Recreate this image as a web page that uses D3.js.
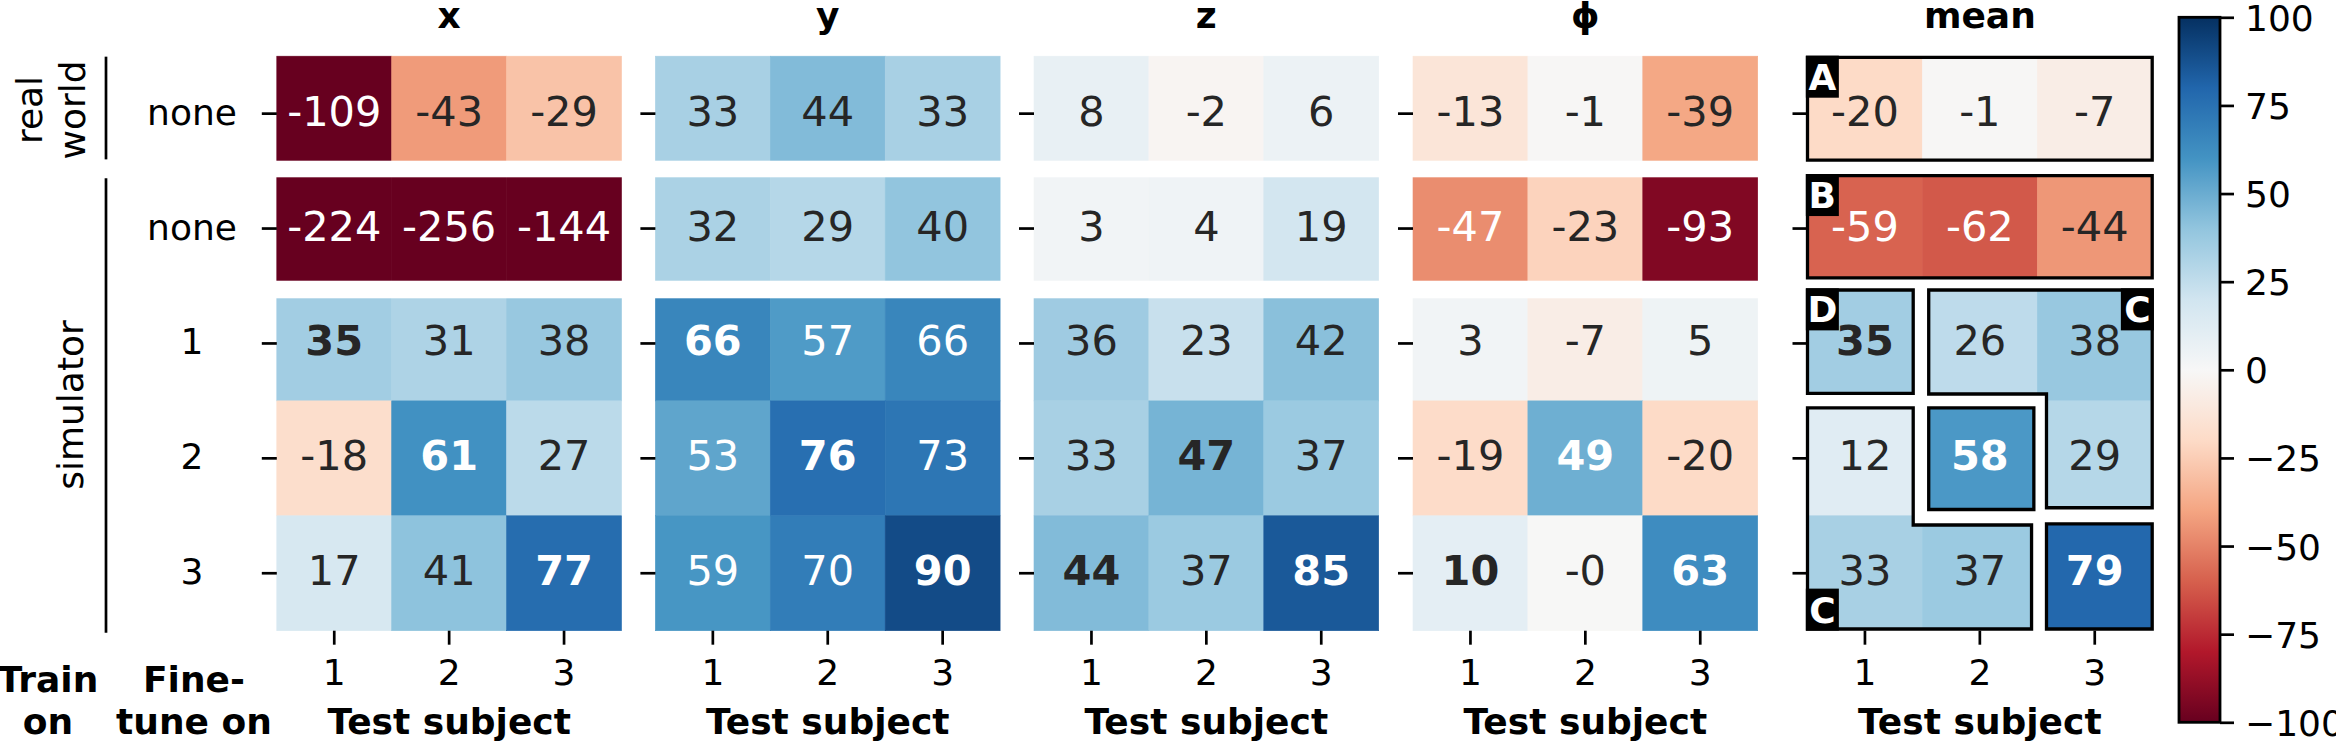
<!DOCTYPE html>
<html><head><meta charset="utf-8">
<script src="https://cdn.jsdelivr.net/npm/d3@7"></script>
<style>
html,body{margin:0;padding:0;background:#fff;}
svg text{font-family:"DejaVu Sans",sans-serif;}
</style></head><body>
<svg id="chart" width="2336" height="743"></svg>
<script>
// ---------------- data ----------------
const panels = ["x", "y", "z", "ϕ", "mean"];
const subjects = ["1", "2", "3"];
const rowLabels = ["none", "none", "1", "2", "3"];
const valuesX    = [[-109, -43, -29], [-224, -256, -144], [35, 31, 38], [-18, 61, 27], [17, 41, 77]];
const valuesY    = [[33, 44, 33], [32, 29, 40], [66, 57, 66], [53, 76, 73], [59, 70, 90]];
const valuesZ    = [[8, -2, 6], [3, 4, 19], [36, 23, 42], [33, 47, 37], [44, 37, 85]];
const valuesPhi  = [[-13, -1, -39], [-47, -23, -93], [3, -7, 5], [-19, 49, -20], [10, -0.3, 63]];
const valuesMean = [[-20, -1, -7], [-59, -62, -44], [35, 26, 38], [12, 58, 29], [33, 37, 79]];
const cbarTicks = [100, 75, 50, 25, 0, -25, -50, -75, -100];
const rdbuColors = ["#67001f","#b2182b","#d6604d","#f4a582","#fddbc7","#f7f7f7","#d1e5f0","#92c5de","#4393c3","#2166ac","#053061"];
// groups outlined in the mean panel (grid units: column, row)
const meanGroups = [
  {label: "A", corner: "tl", pts: [[0,0.01],[3,0.01],[3,0.905],[0,0.905]]},
  {label: "B", corner: "tl", pts: [[0,1.04],[3,1.04],[3,1.93],[0,1.93]]},
  {label: "D", corner: "tl", pts: [[0,2.035],[0.92,2.035],[0.92,2.935],[0,2.935]]},
  {label: "C", corner: "tr", pts: [[1.055,2.035],[3,2.035],[3,3.93],[2.08,3.93],[2.08,2.94],[1.055,2.94]]},
  {label: "",  corner: "",   pts: [[1.055,3.06],[1.97,3.06],[1.97,3.945],[1.055,3.945]]},
  {label: "C", corner: "bl", pts: [[0,3.06],[0.92,3.06],[0.92,4.08],[1.95,4.08],[1.95,4.985],[0,4.985]]},
  {label: "",  corner: "",   pts: [[2.08,4.07],[3,4.07],[3,4.985],[2.08,4.985]]}
];

// ---------------- layout ----------------
const svg = d3.select("#chart");
const cell = 114.9, gridTop = 56.2;
const panelLeft = [276.8, 655.4, 1034, 1413, 1807.5];
const panelValues = [valuesX, valuesY, valuesZ, valuesPhi, valuesMean];
const FS = 36, FSA = 41.5;
const dark = "#262626";

const color = d3.scaleLinear()
  .domain(d3.range(rdbuColors.length).map(i => -100 + 200 * i / (rdbuColors.length - 1)))
  .range(rdbuColors).interpolate(d3.interpolateRgb).clamp(true);

function lum(c) {
  const rgb = d3.rgb(c);
  const f = v => { v /= 255; return v <= 0.03928 ? v / 12.92 : Math.pow((v + 0.055) / 1.055, 2.4); };
  return 0.2126 * f(rgb.r) + 0.7152 * f(rgb.g) + 0.0722 * f(rgb.b);
}
const fmt = v => (v < 0 && Math.round(v) === 0) ? "-0" : String(Math.round(v));

const yScale = d3.scaleBand().domain(d3.range(rowLabels.length)).range([gridTop, gridTop + rowLabels.length * cell]);

// defs
const defs = svg.append("defs");

panels.forEach((name, p) => {
  const vals = panelValues[p];
  const x0 = panelLeft[p];
  const xScale = d3.scaleBand().domain(subjects).range([x0, x0 + subjects.length * cell]);
  const g = svg.append("g");
  const isMean = name === "mean";

  // column max -> bold
  const colMax = subjects.map((s, c) => d3.max(vals, row => row[c]));

  const cellsG = g.append("g");
  if (isMean) {
    const cp = defs.append("clipPath").attr("id", "meanClip");
    meanGroups.forEach(gr => {
      cp.append("path").attr("d", d3.line()(gr.pts.map(([gx, gy]) => [x0 + gx * cell, gridTop + gy * cell])) + "Z");
    });
    cellsG.attr("clip-path", "url(#meanClip)");
  }
  vals.forEach((row, r) => {
    row.forEach((v, c) => {
      cellsG.append("rect")
        .attr("x", xScale(subjects[c])).attr("y", yScale(r))
        .attr("width", xScale.bandwidth()).attr("height", yScale.bandwidth())
        .attr("fill", color(v)).attr("stroke", color(v)).attr("stroke-width", 0.6);
    });
  });
  if (!isMean) {
    [[0.9095, 1.054], [1.954, 2.107]].forEach(([a, b]) => {
      g.append("rect").attr("x", x0 - 1).attr("width", subjects.length * cell + 2)
        .attr("y", gridTop + a * cell).attr("height", (b - a) * cell).attr("fill", "#fff");
    });
  }
  // annotations
  vals.forEach((row, r) => {
    row.forEach((v, c) => {
      const col = color(v);
      g.append("text")
        .attr("x", xScale(subjects[c]) + xScale.bandwidth() / 2)
        .attr("y", yScale(r) + yScale.bandwidth() / 2 + 12)
        .attr("text-anchor", "middle")
        .attr("font-size", FSA)
        .attr("font-weight", v === colMax[c] ? "bold" : "normal")
        .attr("fill", lum(col) > 0.408 ? dark : "#ffffff")
        .text(fmt(v));
    });
  });

  if (isMean) {
    const sw = 3.3;
    meanGroups.forEach(gr => {
      const pts = gr.pts.map(([gx, gy]) => [x0 + gx * cell, gridTop + gy * cell]);
      g.append("path").attr("d", d3.line()(pts) + "Z")
        .attr("fill", "none").attr("stroke", "#000").attr("stroke-width", sw).attr("stroke-linejoin", "miter");
      if (gr.label) {
        const minX = d3.min(pts, d => d[0]), maxX = d3.max(pts, d => d[0]);
        const minY = d3.min(pts, d => d[1]), maxY = d3.max(pts, d => d[1]);
        const bw = 33, bh = 42;
        let bx = minX - sw / 2, by = minY - sw / 2;
        if (gr.corner === "tr") bx = maxX + sw / 2 - bw;
        if (gr.corner === "bl") by = maxY + sw / 2 - bh;
        g.append("rect").attr("x", bx).attr("y", by).attr("width", bw).attr("height", bh).attr("fill", "#000");
        g.append("text").attr("x", bx + bw / 2).attr("y", by + bh / 2 + 13)
          .attr("text-anchor", "middle").attr("font-size", FS).attr("font-weight", "bold")
          .attr("fill", "#fff").text(gr.label);
      }
    });
  }

  // left axis
  const ya = g.append("g").attr("transform", `translate(${x0},0)`)
    .call(d3.axisLeft(yScale).tickSize(15).tickFormat(i => p === 0 ? rowLabels[i] : ""));
  ya.select(".domain").remove();
  ya.selectAll(".tick line").attr("stroke", "#000").attr("stroke-width", 2.7);
  ya.selectAll(".tick text").attr("font-size", FS).attr("fill", "#000")
    .attr("font-family", "DejaVu Sans").attr("text-anchor", "middle")
    .attr("x", 192 - x0).attr("dy", 0).attr("y", 11);

  // bottom axis
  const xa = g.append("g").attr("transform", `translate(0,${gridTop + rowLabels.length * cell})`)
    .call(d3.axisBottom(xScale).tickSize(14));
  xa.select(".domain").remove();
  xa.selectAll(".tick line").attr("stroke", "#000").attr("stroke-width", 2.7);
  xa.selectAll(".tick text").attr("font-size", FS).attr("fill", "#000")
    .attr("font-family", "DejaVu Sans").attr("dy", 0).attr("y", 54);

  // title and x label
  g.append("text").attr("x", x0 + subjects.length * cell / 2).attr("y", 28)
    .attr("text-anchor", "middle").attr("font-size", FS).attr("font-weight", "bold").text(name);
  g.append("text").attr("x", x0 + subjects.length * cell / 2).attr("y", 734)
    .attr("text-anchor", "middle").attr("font-size", FS).attr("font-weight", "bold").text("Test subject");
});

// ---------------- group brackets on the left ----------------
svg.append("line").attr("x1", 106).attr("x2", 106)
  .attr("y1", gridTop + 0.004 * cell).attr("y2", gridTop + 0.898 * cell)
  .attr("stroke", "#000").attr("stroke-width", 2.7);
svg.append("line").attr("x1", 106).attr("x2", 106)
  .attr("y1", gridTop + 1.063 * cell).attr("y2", gridTop + 5.018 * cell)
  .attr("stroke", "#000").attr("stroke-width", 2.7);

const rw = svg.append("text").attr("transform", "translate(42,110) rotate(-90)")
  .attr("text-anchor", "middle").attr("font-size", FS);
rw.append("tspan").attr("x", 0).attr("y", 0).text("real");
rw.append("tspan").attr("x", 0).attr("y", 43).text("world");
svg.append("text").attr("transform", "translate(83,405) rotate(-90)")
  .attr("text-anchor", "middle").attr("font-size", FS).text("simulator");

const tr = svg.append("text").attr("text-anchor", "middle").attr("font-size", FS).attr("font-weight", "bold");
tr.append("tspan").attr("x", 48).attr("y", 692).text("Train");
tr.append("tspan").attr("x", 48).attr("y", 734).text("on");
const ft = svg.append("text").attr("text-anchor", "middle").attr("font-size", FS).attr("font-weight", "bold");
ft.append("tspan").attr("x", 194).attr("y", 692).text("Fine-");
ft.append("tspan").attr("x", 194).attr("y", 734).text("tune on");

// ---------------- colorbar ----------------
const cbScale = d3.scaleLinear().domain([-100, 100]).range([722.3, 17.3]);
const grad = defs.append("linearGradient").attr("id", "cbGrad")
  .attr("x1", 0).attr("x2", 0).attr("y1", 1).attr("y2", 0);
rdbuColors.forEach((c, i) => grad.append("stop").attr("offset", i / (rdbuColors.length - 1)).attr("stop-color", c));
svg.append("rect").attr("x", 2179).attr("width", 41)
  .attr("y", cbScale(100)).attr("height", cbScale(-100) - cbScale(100))
  .attr("fill", "url(#cbGrad)").attr("stroke", "#000").attr("stroke-width", 2.8);
const ca = svg.append("g").attr("transform", "translate(2220,0)")
  .call(d3.axisRight(cbScale).tickValues(cbarTicks).tickSize(14).tickFormat(d3.format("d")));
ca.select(".domain").remove();
ca.selectAll(".tick line").attr("stroke", "#000").attr("stroke-width", 2.7);
ca.selectAll(".tick text").attr("font-size", FS).attr("fill", "#000")
  .attr("font-family", "DejaVu Sans").attr("x", 25).attr("dy", 0).attr("y", 13);
</script>
</body></html>
